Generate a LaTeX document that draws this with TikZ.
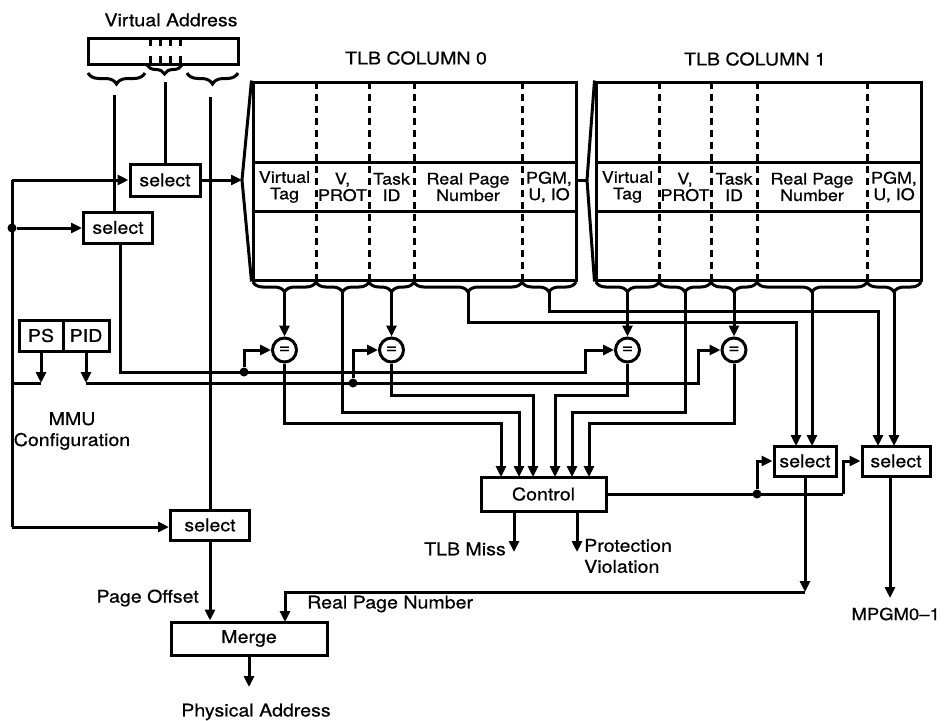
\documentclass[tikz,border=0pt]{standalone}
\usepackage{fontspec}
\setmainfont[FakeStretch=1.12,FakeBold=0.6]{TeX Gyre Heros}
\usetikzlibrary{arrows.meta,decorations.pathreplacing}
\newcommand\lblf{\fontsize{17.5}{21}\selectfont}
\newcommand\fldf{\fontsize{16}{16.5}\selectfont}
\begin{document}
\begin{tikzpicture}[x=1pt,y=-1pt,
  w/.style={line width=3pt},
  arr/.style={w,-{Triangle[length=11pt,width=10pt]}},
  box/.style={draw,w,inner sep=0pt,font=\lblf},
  lbl/.style={font=\lblf,inner sep=0pt},
  fld/.style={font=\fldf,align=center,inner sep=0pt},
  dots/.style={w,dash pattern=on 7pt off 5pt},
  brc/.style={w,decorate,decoration={brace,mirror,amplitude=#1}},
  dot/.style={circle,fill,inner sep=0pt,minimum size=9pt},
  cmp/.style={circle,draw,w,inner sep=0pt,minimum size=24pt,font=\lblf}]
\useasboundingbox (0,0) rectangle (944,720);

% ---------- Virtual address register ----------
\node[lbl] (vat) at (171,20) {Virtual Address};
\node[box,minimum width=150pt,minimum height=26pt] (vareg) at (163,51) {};
\foreach \x in {150,160,170,180}{\draw[w] (\x,38) -- (\x,46); \draw[w] (\x,56) -- (\x,64);}
\draw[brc=11pt] (88,73) -- (145,73);
\draw[brc=9pt] (147,65) -- (182,65);
\draw[brc=11pt] (187,73) -- (238,73);
\coordinate (vaL) at (114,95);
\coordinate (vaM) at (165,82);
\coordinate (vaR) at (210,97);

% ---------- select boxes ----------
\node[box,minimum width=70pt,minimum height=32pt] (selA) at (165,180) {select};
\node[box,minimum width=69pt,minimum height=31pt] (selB) at (118,227.5) {select};
\node[box,minimum width=79pt,minimum height=30pt] (selC) at (210,525) {select};
\node[box,minimum width=62pt,minimum height=30pt] (selD) at (805,461) {select};
\node[box,minimum width=68pt,minimum height=30pt] (selE) at (896,461) {select};
\node[box,minimum width=125pt,minimum height=34pt] (ctrl) at (543.5,494) {Control};
\node[box,minimum width=156pt,minimum height=33pt] (merge) at (249,638.5) {Merge};
\node[box,minimum width=44pt,minimum height=31pt] (ps) at (41,335.5) {PS};
\node[box,minimum width=46pt,minimum height=31pt] (pid) at (86,335.5) {PID};

% ---------- TLB column 0 ----------
\node[lbl] (t0) at (416,58) {TLB COLUMN 0};
\node[draw,w,minimum width=323pt,minimum height=198pt,inner sep=0pt] (tlb0) at (414.5,181) {};
\draw[w] (253,162) -- (576,162) (253,211) -- (576,211);
\foreach \x in {316,369,414,522} \draw[dots] (\x,82) -- (\x,280);
\coordinate (w0) at (242,180);
\draw[w] (tlb0.north west) -- (w0) -- (tlb0.south west);
\node[fld] at (284.5,187) {Virtual\\Tag};
\node[fld] at (342.5,187) {V,\\PROT};
\node[fld] at (391.5,187) {Task\\ID};
\node[fld] at (468,187) {Real Page\\Number};
\node[fld] at (549,187) {PGM,\\U, IO};
\foreach \a/\b in {253/316,316/369,369/414,414/522,522/576} \draw[brc=10pt] (\a,282) -- (\b,282);
\coordinate (b0vt) at (284.5,292);
\coordinate (b0vp) at (342.5,292);
\coordinate (b0ti) at (391.5,292);
\coordinate (b0rp) at (468,292);
\coordinate (b0pg) at (549,292);

% ---------- TLB column 1 ----------
\node[lbl] (t1) at (755,59) {TLB COLUMN 1};
\node[draw,w,minimum width=325pt,minimum height=198pt,inner sep=0pt] (tlb1) at (758.5,181) {};
\draw[w] (596,162) -- (921,162) (596,211) -- (921,211);
\foreach \x in {659,711,757,867} \draw[dots] (\x,82) -- (\x,280);
\coordinate (w1) at (587,180);
\draw[w] (tlb1.north west) -- (w1) -- (tlb1.south west);
\node[fld] at (627.5,187) {Virtual\\Tag};
\node[fld] at (685,187) {V,\\PROT};
\node[fld] at (734,187) {Task\\ID};
\node[fld] at (812,187) {Real Page\\Number};
\node[fld] at (894,187) {PGM,\\U, IO};
\foreach \a/\b in {596/659,659/711,711/757,757/867,867/921} \draw[brc=10pt] (\a,282) -- (\b,282);
\coordinate (b1vt) at (627.5,292);
\coordinate (b1vp) at (685,292);
\coordinate (b1ti) at (734,292);
\coordinate (b1rp) at (812,292);
\coordinate (b1pg) at (894,292);

% ---------- comparators ----------
\node[cmp] (cmp1) at (284.5,350) {=};
\node[cmp] (cmp2) at (391.5,350) {=};
\node[cmp] (cmp3) at (627.5,350) {=};
\node[cmp] (cmp4) at (734,350) {=};

% ---------- control inputs ----------
\coordinate (ci1) at (501,477);
\coordinate (ci2) at (519,477);
\coordinate (ci3) at (533,477);
\coordinate (ci4) at (555,477);
\coordinate (ci5) at (572,477);
\coordinate (ci6) at (589,477);

% ---------- address side wiring ----------
\draw[w] (vaL) -- (vaL |- selB.north);
\draw[w] (vaM) -- (selA.north);
\draw[w] (vaR) -- (selC.north);
\draw[arr] (selA.east) -- (w0);
\draw[w] (tlb0.east |- w1) -- (w1);

% left bus
\coordinate (bt) at (12,180);
\node[dot] (bd) at (12,228) {};
\coordinate (bb) at (12,527);
\coordinate (bps) at (12,383);
\draw[w] (bt) -- (bb);
\draw[arr] (bt) -- (selA.west);
\draw[arr] (bd) -- (bd -| selB.west);
\draw[arr] (bb) -- (bb -| selC.west);

% PS / PID
\coordinate (psa) at (41,383);
\coordinate (pida) at (86,383);
\draw[arr] (ps.south) -- (psa);
\draw[w] (psa) -- (bps);
\draw[arr] (pid.south) -- (pida);
\node[dot] (pd) at (353,383) {};
\draw[arr] (pida) -| (698,350) -- (cmp4.west);
\draw[arr] (pd) |- (cmp2.west);

% lower select output (virtual tag)
\coordinate (selBo) at (120,243);
\node[dot] (vd) at (244,372) {};
\draw[arr] (selBo) |- (585,372) -- (585,350) -- (cmp3.west);
\draw[arr] (vd) |- (cmp1.west);

% TLB field outputs
\draw[arr] (b0vt) -- (cmp1.north);
\draw[arr] (b0ti) -- (cmp2.north);
\draw[arr] (b1vt) -- (cmp3.north);
\draw[arr] (b1ti) -- (cmp4.north);
\draw[arr] (b0vp) |- (519,412) -- (ci2);
\draw[arr] (b1vp) |- (572,412) -- (ci5);
\draw[arr] (cmp1.south) |- (501,423) -- (ci1);
\draw[arr] (cmp2.south) |- (533,395) -- (ci3);
\draw[arr] (cmp3.south) |- (555,395) -- (ci4);
\draw[arr] (cmp4.south) |- (589,423) -- (ci6);
\draw[arr] (b0rp) |- (796,322) -- (796,446);
\draw[arr] (b1rp) -- (812,446);
\draw[arr] (b0pg) |- (878,311) -- (878,446);
\draw[arr] (b1pg) -- (894,446);

% control outputs
\coordinate (co1) at (514,511);
\coordinate (co2) at (577,511);
\coordinate (tm) at (514,552);
\coordinate (pv) at (577,552);
\draw[arr] (co1) -- (tm);
\draw[arr] (co2) -- (pv);
\node[dot] (cd) at (757,494) {};
\draw[w] (ctrl.east) -- (843,494);
\draw[arr] (843,494) |- (selE.west);
\draw[arr] (cd) |- (selD.west);

% outputs to merge
\coordinate (rpj) at (805,592);
\coordinate (mi2) at (285,622);
\draw[arr] (selD.south) -- (rpj);
\draw[arr] (rpj) -| (mi2);
\draw[arr] (selC.south) -- (selC.south |- merge.north);
\coordinate (pa) at (249,687);
\draw[arr] (merge.south) -- (pa);
\coordinate (selEo) at (890,476);
\coordinate (mp) at (890,598);
\draw[arr] (selEo) -- (mp);

% ---------- texts ----------
\node[lbl,align=center] (mmu) at (72,431) {MMU\\Configuration};
\node[lbl,anchor=east] (po) at (199,598) {Page Offset};
\node[lbl,anchor=west] (rpn) at (307,604) {Real Page Number};
\node[lbl] (phys) at (256,712) {Physical Address};
\node[lbl,anchor=east] (tlbm) at (506,549) {TLB Miss};
\node[lbl,anchor=west,align=left] (prot) at (584,556) {Protection\\Violation};
\node[lbl,anchor=east,font=\fontsize{16.5}{20}\selectfont] (mpgm) at (940,614) {MPGM0\textendash1};
\end{tikzpicture}
\end{document}
